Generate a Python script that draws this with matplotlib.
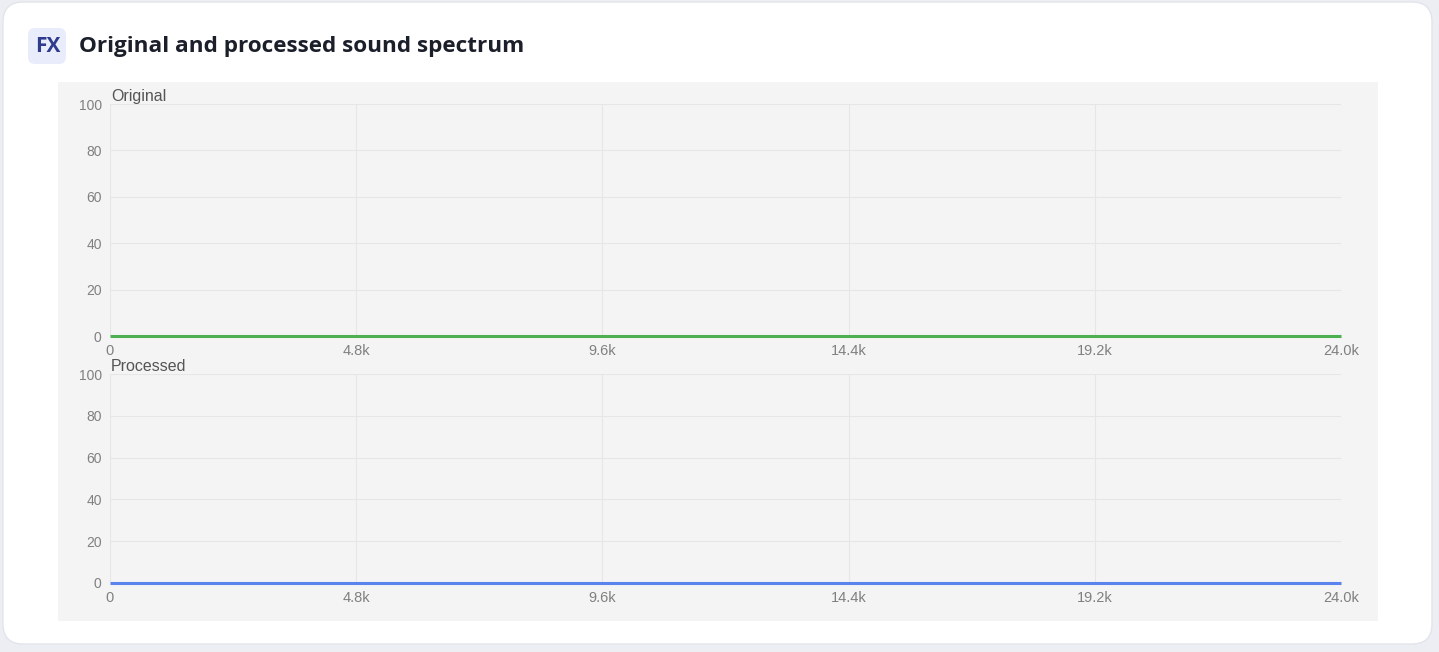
import matplotlib
matplotlib.use("Agg")
import matplotlib.pyplot as plt
from matplotlib.patches import FancyBboxPatch, Rectangle

# ---- data ----
freq_hz = [0, 4800, 9600, 14400, 19200, 24000]
original_level = [0, 0, 0, 0, 0, 0]
processed_level = [0, 0, 0, 0, 0, 0]
x_ticks = [0, 4800, 9600, 14400, 19200, 24000]
x_tick_labels = ["0", "4.8k", "9.6k", "14.4k", "19.2k", "24.0k"]
y_ticks = [0, 20, 40, 60, 80, 100]
title = "Original and processed sound spectrum"
badge = "FX"
panel_titles = ["Original", "Processed"]

W, H = 1439, 652
fig = plt.figure(figsize=(W / 100, H / 100), dpi=100)
fig.patch.set_facecolor("#eceef3")

# background axes in pixel units
bg = fig.add_axes([0, 0, 1, 1])
bg.set_xlim(0, W)
bg.set_ylim(H, 0)
bg.axis("off")
bg.set_zorder(-10)
bg.add_patch(FancyBboxPatch((3, 2), 1429, 642, boxstyle="round,pad=0,rounding_size=20",
                            facecolor="white", edgecolor="#e1e4ea", linewidth=1))
bg.add_patch(FancyBboxPatch((28, 28), 38, 36, boxstyle="round,pad=0,rounding_size=7",
                            facecolor="#e9edfb", edgecolor="none"))
bg.text(47.5, 46.5, badge, ha="center", va="center", fontsize=15, fontweight="bold",
        color="#2e3b8e", family=["Open Sans", "DejaVu Sans"])
bg.text(79, 46.5, title, ha="left", va="center", fontsize=16.2, fontweight="bold",
        color="#1b1f2a", family=["Open Sans", "DejaVu Sans"])
bg.add_patch(Rectangle((58, 82), 1320, 539, facecolor="#f4f4f4", edgecolor="none"))

left = 110 / W
width = 1231 / W
panels = [
    (104, 336, original_level, "#4caf50", panel_titles[0]),
    (374, 583, processed_level, "#5b83ee", panel_titles[1]),
]
for top, bot, vals, col, ptitle in panels:
    ax = fig.add_axes([left, 1 - bot / H, width, (bot - top) / H])
    ax.set_facecolor("none")
    ax.set_xlim(0, 24000)
    ax.set_ylim(0, 100)
    ax.set_xticks(x_ticks)
    ax.set_xticklabels(x_tick_labels)
    ax.set_yticks(y_ticks)
    for s in ax.spines.values():
        s.set_visible(False)
    ax.grid(True, color="#e6e6e6", linewidth=0.8)
    ax.set_axisbelow(True)
    ax.tick_params(axis="y", length=0, labelsize=10, labelcolor="#808080", pad=6)
    ax.tick_params(axis="x", length=0, labelsize=10.5, labelcolor="#808080", pad=6)
    for lab in ax.get_xticklabels() + ax.get_yticklabels():
        lab.set_family(["Liberation Sans", "DejaVu Sans"])
    ax.plot(freq_hz, vals, color=col, linewidth=2.2, clip_on=False, solid_capstyle="butt")
    ax.text(0.001, 1.0, ptitle, transform=ax.transAxes, ha="left", va="bottom",
            fontsize=11.5, color="#555555", family=["Liberation Sans", "DejaVu Sans"])

fig.savefig("out.png", dpi=100, facecolor=fig.get_facecolor())
